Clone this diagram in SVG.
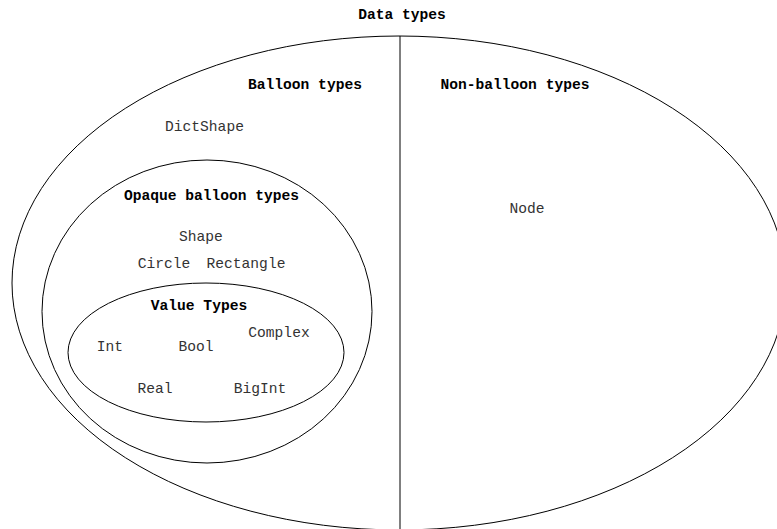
<svg xmlns="http://www.w3.org/2000/svg" width="777" height="529" viewBox="0 0 777 529">
<style>
.shape{fill:none;stroke:#000;stroke-width:1}
.t{font-family:"Liberation Mono","Courier New",monospace;font-size:14.6px;fill:#333;text-anchor:middle}
.b{font-weight:bold;fill:#000}
</style>
<rect x="0" y="0" width="777" height="529" fill="#fff"/>
<g id="data-types">
<ellipse class="shape" cx="399" cy="283" rx="387" ry="247"/>
<text class="t b" x="402" y="19">Data types</text>
</g>
<g id="connectors">
<line class="shape" x1="400" y1="36" x2="400" y2="529"/>
</g>
<g id="balloon-types">
<text class="t b" x="305" y="89">Balloon types</text>
<text class="t" x="204.5" y="131">DictShape</text>
</g>
<g id="non-balloon-types">
<text class="t b" x="515" y="89">Non-balloon types</text>
<text class="t" x="527" y="213">Node</text>
</g>
<g id="opaque-balloon-types">
<ellipse class="shape" cx="207" cy="311.5" rx="165" ry="151.5"/>
<text class="t b" x="211.5" y="200">Opaque balloon types</text>
<text class="t" x="201" y="241">Shape</text>
<text class="t" x="164" y="268">Circle</text>
<text class="t" x="246" y="268">Rectangle</text>
</g>
<g id="value-types">
<ellipse class="shape" cx="206" cy="352.5" rx="138" ry="69.5"/>
<text class="t b" x="199" y="309.5">Value Types</text>
<text class="t" x="279" y="337">Complex</text>
<text class="t" x="110" y="351">Int</text>
<text class="t" x="196" y="351">Bool</text>
<text class="t" x="155" y="393">Real</text>
<text class="t" x="260" y="393">BigInt</text>
</g>
</svg>
